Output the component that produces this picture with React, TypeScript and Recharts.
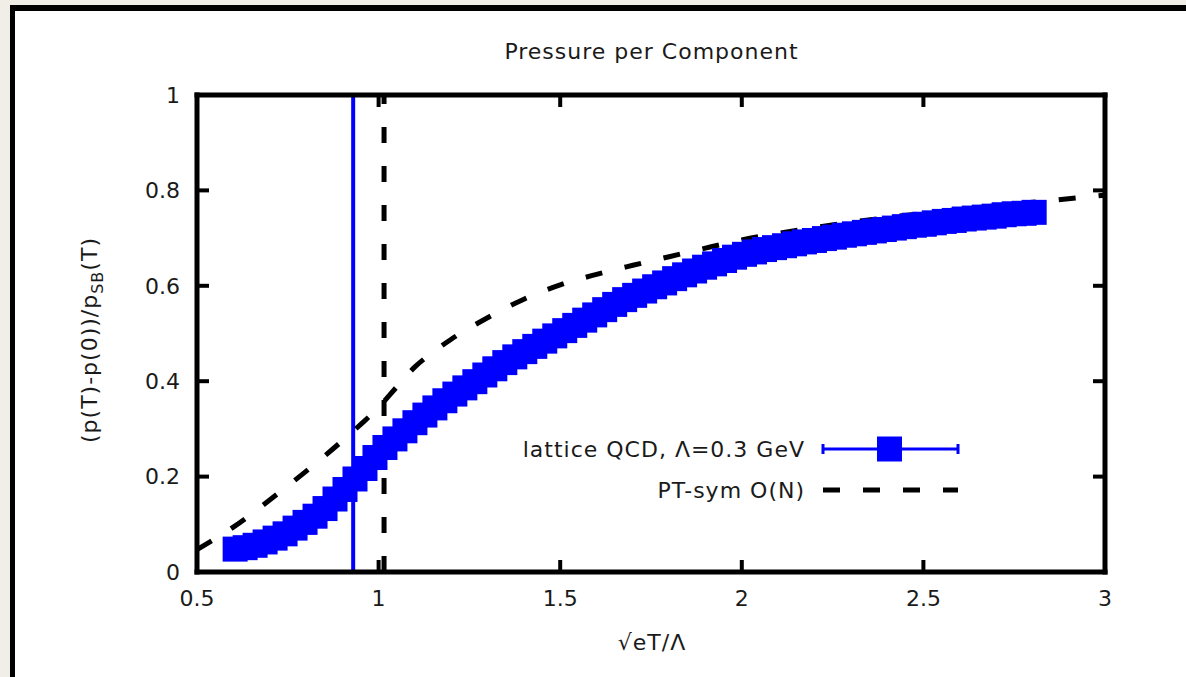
import React from 'react';
import { ComposedChart, Scatter, Line, XAxis, YAxis, ReferenceLine, Legend, Label } from 'recharts';

// axis ticks
const xTicks = [0.5, 1, 1.5, 2, 2.5, 3];
const yTicks = [0, 0.2, 0.4, 0.6, 0.8, 1];

// lattice QCD points (x = sqrt(e) T / Lambda)
const latticeX = [
  0.605, 0.6325, 0.66, 0.6875, 0.715, 0.7425, 0.77, 0.7975, 0.825, 0.8525,
  0.88, 0.9075, 0.935, 0.9625, 0.99, 1.0175, 1.045, 1.0725, 1.1, 1.1275,
  1.155, 1.1825, 1.21, 1.2375, 1.265, 1.2925, 1.32, 1.3475, 1.375, 1.4025,
  1.43, 1.4575, 1.485, 1.5125, 1.54, 1.5675, 1.595, 1.6225, 1.65, 1.6775,
  1.705, 1.7325, 1.76, 1.7875, 1.815, 1.8425, 1.87, 1.8975, 1.925, 1.9525,
  1.98, 2.0075, 2.035, 2.0625, 2.09, 2.1175, 2.145, 2.1725, 2.2, 2.2275,
  2.255, 2.2825, 2.31, 2.3375, 2.365, 2.3925, 2.42, 2.4475, 2.475, 2.5025,
  2.53, 2.5575, 2.585, 2.6125, 2.64, 2.6675, 2.695, 2.7225, 2.75, 2.7775, 2.805,
];
const latticeY = [
  0.048, 0.051, 0.056, 0.063, 0.071, 0.080, 0.092, 0.104, 0.117, 0.133,
  0.153, 0.173, 0.195, 0.217, 0.240, 0.261, 0.279, 0.296, 0.313, 0.329,
  0.344, 0.359, 0.373, 0.386, 0.399, 0.413, 0.426, 0.439, 0.451, 0.462,
  0.473, 0.484, 0.495, 0.506, 0.517, 0.528, 0.539, 0.550, 0.561, 0.571,
  0.580, 0.589, 0.598, 0.606, 0.615, 0.623, 0.631, 0.639, 0.646, 0.653,
  0.660, 0.666, 0.671, 0.676, 0.680, 0.684, 0.688, 0.692, 0.695, 0.699,
  0.702, 0.706, 0.709, 0.712, 0.715, 0.718, 0.721, 0.724, 0.727, 0.729,
  0.732, 0.735, 0.737, 0.740, 0.742, 0.744, 0.746, 0.749, 0.751, 0.752, 0.754,
];

// PT-symmetric O(N) model curve
const ptSymX = [0.5, 0.6, 0.7, 0.8, 0.9, 0.95, 1.0, 1.05, 1.1, 1.15, 1.2, 1.3, 1.4, 1.5, 1.6, 1.7, 1.8, 1.9, 2.0, 2.2, 2.4, 2.6, 2.8, 3.0];
const ptSymY = [0.047, 0.094, 0.151, 0.211, 0.275, 0.309, 0.345, 0.388, 0.430, 0.461, 0.488, 0.533, 0.572, 0.602, 0.624, 0.643, 0.661, 0.679, 0.696, 0.722, 0.743, 0.760, 0.775, 0.790];

// transition temperatures
const transitionLattice = 0.93;
const transitionPT = 1.015;

const seriesNames = ['lattice QCD, Λ=0.3 GeV', 'PT-sym O(N)'];
const title = 'Pressure per Component';
const xLabel = '√eT/Λ';

const FONT = '"DejaVu Sans", sans-serif';
const BLUE = '#0000ff';
const TEXT = '#1a1a1a';

const latticeData = latticeX.map((x, i) => ({ x, y: latticeY[i] }));
const ptSymData = ptSymX.map((x, i) => ({ x, y: ptSymY[i] }));

const Square = (props: any) => {
  const { cx, cy } = props;
  if (cx == null || cy == null) return null;
  return <rect x={cx - 12.5} y={cy - 12.5} width={25} height={25} fill={BLUE} />;
};

const renderLegend = () => (
  <svg width={480} height={90} style={{ display: 'block', overflow: 'visible' }}>
    <text x={305} y={32} textAnchor="end" fontSize={22} letterSpacing={1} fill={TEXT} fontFamily={FONT}>
      {seriesNames[0]}
    </text>
    <line x1={323} x2={458} y1={24} y2={24} stroke={BLUE} strokeWidth={3} />
    <line x1={323} x2={323} y1={19} y2={29} stroke={BLUE} strokeWidth={3} />
    <line x1={458} x2={458} y1={19} y2={29} stroke={BLUE} strokeWidth={3} />
    <rect x={377} y={11.5} width={25} height={25} fill={BLUE} />
    <text x={305} y={73} textAnchor="end" fontSize={22} letterSpacing={1} fill={TEXT} fontFamily={FONT}>
      {seriesNames[1]}
    </text>
    <line x1={323} x2={458} y1={65} y2={65} stroke="#000" strokeWidth={5} strokeDasharray="17 23" />
  </svg>
);

const tickStyle = { fill: TEXT, fontSize: 22, fontFamily: FONT };
const frameLine = { stroke: '#000', strokeWidth: 5, strokeLinecap: 'square' as const };
const tickMark = { stroke: '#000', strokeWidth: 4 };

export default function App() {
  return (
    <div style={{ position: 'absolute', left: 0, top: 0, width: 1186, height: 677, background: '#f1eee7', overflow: 'hidden', fontFamily: FONT }}>
      <div
        style={{
          position: 'absolute', left: 10, top: 5, width: 1176, height: 672,
          background: '#fff', borderLeft: '5px solid #000', borderTop: '6px solid #000', boxSizing: 'border-box',
        }}
      />
      <div style={{ position: 'absolute', left: 15, top: 10 }}>
        <ComposedChart width={1171} height={667} margin={{ top: 84, right: 80, bottom: 0, left: 0 }}>
          <XAxis
            dataKey="x" type="number" domain={[0.5, 3]} ticks={xTicks} allowDataOverflow
            height={105} axisLine={frameLine} tickLine={tickMark} tickSize={-12} tickMargin={30} tick={tickStyle}
          >
            <Label
              content={() => (
                <g>
                  <text x={637} y={640} textAnchor="middle" fontSize={22} letterSpacing={1} fill={TEXT} fontFamily={FONT}>
                    {xLabel}
                  </text>
                  <text x={636.5} y={49} textAnchor="middle" fontSize={22} letterSpacing={1} fill={TEXT} fontFamily={FONT}>
                    {title}
                  </text>
                </g>
              )}
            />
          </XAxis>
          <XAxis
            xAxisId="top" orientation="top" dataKey="x" type="number" domain={[0.5, 3]} ticks={xTicks} allowDataOverflow
            height={1} axisLine={frameLine} tickLine={tickMark} tickSize={-12} tickFormatter={() => ''}
          />
          <YAxis
            type="number" domain={[0, 1]} ticks={yTicks} allowDataOverflow
            width={182} axisLine={frameLine} tickLine={tickMark} tickSize={-12} tickMargin={29} tick={tickStyle}
          >
            <Label
              content={() => (
                <text
                  x={82} y={330} transform="rotate(-90, 82, 330)" textAnchor="middle"
                  fontSize={22} letterSpacing={1} fill={TEXT} fontFamily={FONT}
                >
                  (p(T)-p(0))/p
                  <tspan fontSize={16} dy={6}>SB</tspan>
                  <tspan dy={-6}>(T)</tspan>
                </text>
              )}
            />
          </YAxis>
          <YAxis
            yAxisId="right" orientation="right" type="number" domain={[0, 1]} ticks={yTicks} allowDataOverflow
            width={1} axisLine={frameLine} tickLine={tickMark} tickSize={-12} tickFormatter={() => ''}
          />

          <Scatter name={seriesNames[0]} data={latticeData} dataKey="y" shape={Square} isAnimationActive={false} />
          <ReferenceLine x={transitionLattice} stroke={BLUE} strokeWidth={4} />
          <ReferenceLine x={transitionPT} stroke="#000" strokeWidth={5} strokeDasharray="16 23" />
          <Line
            name={seriesNames[1]} data={ptSymData} dataKey="y" type="monotone"
            stroke="#000" strokeWidth={5} strokeDasharray="17 23" dot={false} activeDot={false} isAnimationActive={false}
          />
          {/* invisible copy bound to the mirror axes so they get drawn */}
          <Line
            xAxisId="top" yAxisId="right" data={ptSymData} dataKey="y" stroke="none" dot={false}
            activeDot={false} legendType="none" isAnimationActive={false}
          />
          <Legend
            layout="vertical" align="center" verticalAlign="middle" content={renderLegend}
            wrapperStyle={{ left: 485, top: 415, width: 480, height: 90 }}
          />
        </ComposedChart>
      </div>
    </div>
  );
}
